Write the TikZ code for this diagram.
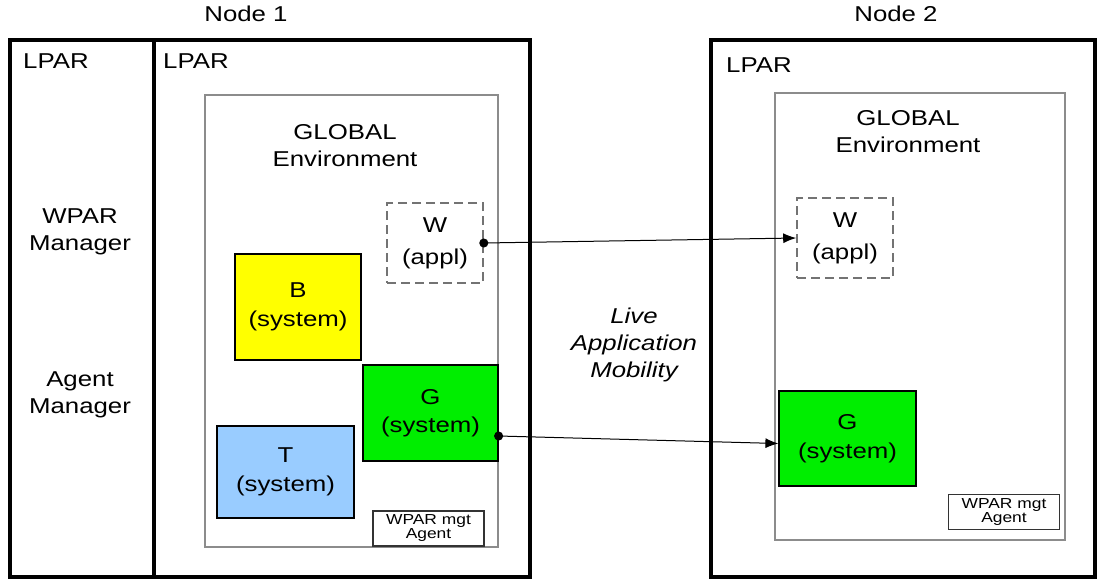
\documentclass[tikz,border=0pt]{standalone}
\usepackage{fontspec}
\setmainfont{Liberation Sans}[FakeStretch=1.2]
\usetikzlibrary{arrows.meta}

\definecolor{sysyellow}{RGB}{255,255,0}
\definecolor{sysgreen}{RGB}{0,238,0}
\definecolor{sysblue}{RGB}{153,204,255}

\begin{document}
\begin{tikzpicture}[x=1pt,y=-1pt]
	\tikzstyle{every node}+=[font=\fontsize{21.5}{27}\selectfont, align=center, inner sep=0pt]
	\tikzstyle{lparbox}=[draw=black, line width=3.5pt]
	\tikzstyle{globalbox}=[draw=black!45, line width=1.8pt]
	\tikzstyle{wbox}=[draw=black!55, line width=1.6pt, dash pattern=on 9pt off 5pt, minimum width=96pt, minimum height=80pt, font=\fontsize{21.5}{32}\selectfont]
	\tikzstyle{sysbox}=[draw=black, line width=1.2pt, font=\fontsize{21.5}{28.5}\selectfont]
	\tikzstyle{agentbox}=[draw=black!80, line width=1.2pt, font=\fontsize{14.5}{14}\selectfont, minimum width=111pt, minimum height=35pt]
	\tikzstyle{move}=[draw=black, line width=1pt, {Circle[length=9pt]}-{Latex[length=13pt,width=10pt]}, shorten <=-4.5pt]
	\useasboundingbox (0,0) rectangle (1099,579);

	% Node 1
	\node (node1) at (246,14) {Node 1};
	\draw[lparbox] (10,40) rectangle (530,577);
	\draw[lparbox] (154,40) -- (154,577);
	\node[anchor=west] (lpara) at (23,61) {LPAR};
	\node[anchor=west] (lparb) at (163,61) {LPAR};
	\node (wparmgr) at (80,232) {WPAR\\Manager};
	\node (agentmgr) at (80,395) {Agent\\Manager};
	\draw[globalbox] (205,95) rectangle (498,547);
	\node (glob1) at (345,146) {GLOBAL\\Environment};
	\node[wbox] (w1) at (435,243) {W\\(appl)};
	\node[sysbox, fill=sysyellow, minimum width=126pt, minimum height=106pt] (b1) at (298,307) {B\\(system)};
	\node[sysbox, fill=sysgreen, minimum width=135pt, minimum height=96pt] (g1) at (430.5,413) {G\\(system)};
	\node[sysbox, fill=sysblue, minimum width=137pt, minimum height=92pt] (t1) at (285.5,472) {T\\(system)};
	\node[agentbox] (agent1) at (428.5,528.5) {WPAR mgt\\Agent};

	% Node 2
	\node (node2) at (896,14) {Node 2};
	\draw[lparbox] (711,40) rectangle (1095,577);
	\node[anchor=west] (lparc) at (726,65) {LPAR};
	\draw[globalbox] (775,93) rectangle (1065,540);
	\node (glob2) at (908,132) {GLOBAL\\Environment};
	\node[wbox] (w2) at (845,238) {W\\(appl)};
	\node[sysbox, fill=sysgreen, minimum width=137pt, minimum height=95pt] (g2) at (847.5,438.5) {G\\(system)};
	\node[agentbox] (agent2) at (1004,512) {WPAR mgt\\Agent};

	% Mobility
	\node[font=\fontsize{21.5}{27}\selectfont\itshape] (live) at (634,345) {Live\\Application\\Mobility};
	\draw[move] (w1.east) -- (w2.west);
	\draw[move] ([yshift=-23pt]g1.east) -- ([yshift=-5pt]g2.west);
\end{tikzpicture}
\end{document}
